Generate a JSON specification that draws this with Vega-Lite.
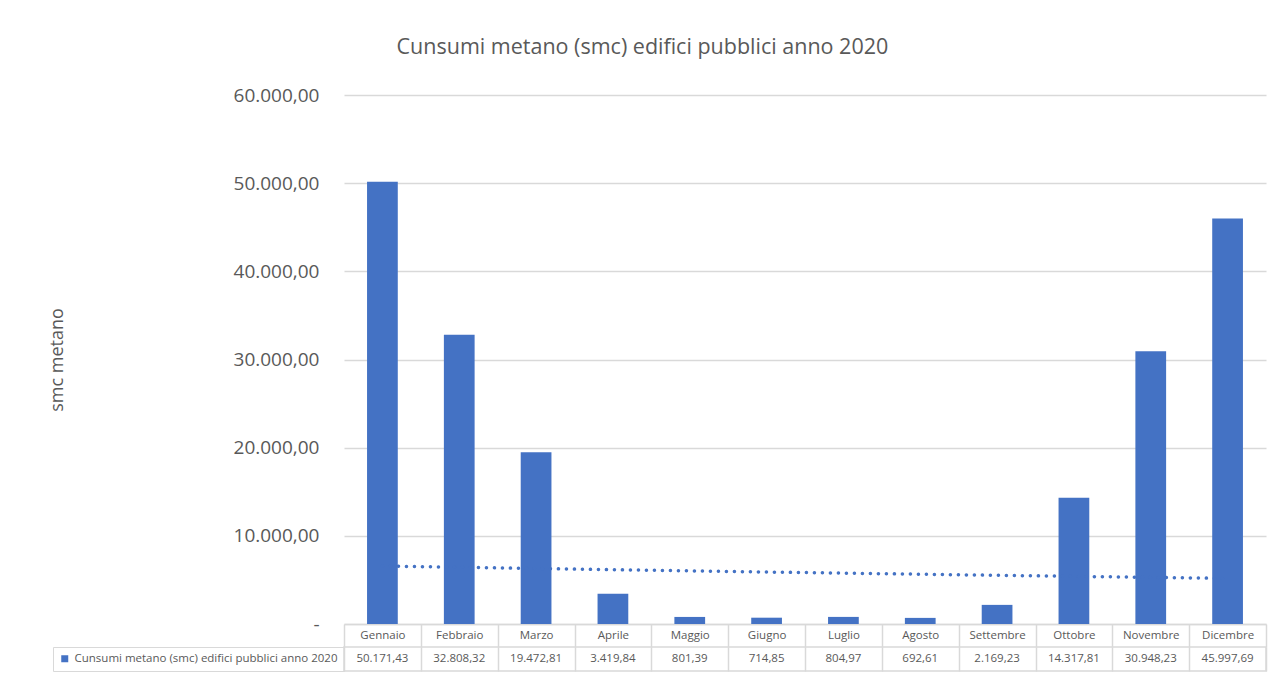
{
  "$schema": "https://vega.github.io/schema/vega-lite/v6.json",
  "padding": {"left": 48, "top": 36, "right": 10, "bottom": 4},
  "background": "white",
  "bounds": "flush",
  "spacing": 23,
  "resolve": {"scale": {"color": "independent"}, "legend": {"color": "independent"}},
  "title": {
    "text": "Cunsumi metano (smc) edifici pubblici anno 2020",
    "font": "Open Sans",
    "fontSize": 21.5,
    "fontWeight": "normal",
    "color": "#595959",
    "anchor": "middle",
    "frame": "bounds",
    "offset": 28,
    "dx": -15
  },
  "data": {
    "values": [
      {"mese": "Gennaio", "smc": 50171.43, "tendenza": 6574, "serie": "Cunsumi metano (smc) edifici pubblici anno 2020"},
      {"mese": "Febbraio", "smc": 32808.32, "tendenza": 6432, "serie": "Cunsumi metano (smc) edifici pubblici anno 2020"},
      {"mese": "Marzo", "smc": 19472.81, "tendenza": 6294, "serie": "Cunsumi metano (smc) edifici pubblici anno 2020"},
      {"mese": "Aprile", "smc": 3419.84, "tendenza": 6158, "serie": "Cunsumi metano (smc) edifici pubblici anno 2020"},
      {"mese": "Maggio", "smc": 801.39, "tendenza": 6026, "serie": "Cunsumi metano (smc) edifici pubblici anno 2020"},
      {"mese": "Giugno", "smc": 714.85, "tendenza": 5896, "serie": "Cunsumi metano (smc) edifici pubblici anno 2020"},
      {"mese": "Luglio", "smc": 804.97, "tendenza": 5769, "serie": "Cunsumi metano (smc) edifici pubblici anno 2020"},
      {"mese": "Agosto", "smc": 692.61, "tendenza": 5645, "serie": "Cunsumi metano (smc) edifici pubblici anno 2020"},
      {"mese": "Settembre", "smc": 2169.23, "tendenza": 5523, "serie": "Cunsumi metano (smc) edifici pubblici anno 2020"},
      {"mese": "Ottobre", "smc": 14317.81, "tendenza": 5404, "serie": "Cunsumi metano (smc) edifici pubblici anno 2020"},
      {"mese": "Novembre", "smc": 30948.23, "tendenza": 5288, "serie": "Cunsumi metano (smc) edifici pubblici anno 2020"},
      {"mese": "Dicembre", "smc": 45997.69, "tendenza": 5174, "serie": "Cunsumi metano (smc) edifici pubblici anno 2020"}
    ]
  },
  "config": {
    "font": "Open Sans",
    "locale": {"number": {"decimal": ",", "thousands": ".", "grouping": [3], "currency": ["€", ""]}},
    "axis": {"labelFont": "Open Sans", "titleFont": "Open Sans"},
    "legend": {"labelFont": "Open Sans"}
  },
  "vconcat": [
    {
      "width": 922,
      "height": 529,
      "view": {"stroke": null},
      "encoding": {
        "x": {
          "field": "mese",
          "type": "nominal",
          "sort": null,
          "scale": {"paddingInner": 0, "paddingOuter": 0},
          "axis": {
            "title": null,
            "labelAngle": 0,
            "grid": false,
            "domainColor": "#d9d9d9",
            "domainWidth": 1.5,
            "tickColor": "#d9d9d9",
            "tickWidth": 1.5,
            "tickSize": 23,
            "tickBand": "extent",
            "labelPadding": -12,
            "labelBaseline": "middle",
            "labelFontSize": 11.5,
            "labelColor": "#595959"
          }
        }
      },
      "layer": [
        {
          "mark": {"type": "bar", "color": "#4472C4", "width": {"band": 0.4}},
          "encoding": {
            "y": {
              "field": "smc",
              "type": "quantitative",
              "title": "smc metano",
              "scale": {"domain": [0, 60000], "nice": false},
              "axis": {
                "values": [0, 10000, 20000, 30000, 40000, 50000, 60000],
                "format": ",.2f",
                "labelExpr": "datum.value === 0 ? '-\u2007\u2007' : datum.label",
                "domain": false,
                "ticks": false,
                "tickSize": 0,
                "labelPadding": 25,
                "labelFontSize": 19,
                "labelColor": "#595959",
                "gridColor": "#d9d9d9",
                "gridWidth": 1.5,
                "titleFontSize": 18,
                "titleFontWeight": "normal",
                "titleColor": "#595959",
                "titlePadding": 167
              }
            }
          }
        },
        {
          "mark": {"type": "line", "color": "#4472C4", "strokeWidth": 3.5, "strokeDash": [0.1, 7.9], "strokeCap": "round"},
          "encoding": {
            "y": {"field": "tendenza", "type": "quantitative", "title": "smc metano"}
          }
        }
      ]
    },
    {
      "width": 922,
      "height": 24,
      "view": {"stroke": "#d9d9d9", "strokeWidth": 1.5},
      "encoding": {
        "x": {
          "field": "mese",
          "type": "nominal",
          "sort": null,
          "scale": {"paddingInner": 0, "paddingOuter": 0},
          "axis": {
            "title": null,
            "labels": false,
            "ticks": false,
            "domain": false,
            "grid": true,
            "gridColor": "#d9d9d9",
            "gridWidth": 1.5,
            "tickBand": "extent"
          }
        }
      },
      "layer": [
        {
          "mark": {"type": "text", "font": "Open Sans", "fontSize": 11.5, "color": "#595959", "baseline": "middle"},
          "encoding": {
            "text": {"field": "smc", "type": "quantitative", "format": ",.2f"}
          }
        },
        {
          "mark": {"type": "point", "shape": "square", "filled": true, "opacity": 0},
          "encoding": {
            "color": {
              "field": "serie",
              "type": "nominal",
              "scale": {"range": ["#4472C4"]},
              "legend": {
                "orient": "left",
                "offset": 0,
                "title": null,
                "symbolType": "square",
                "symbolSize": 49,
                "symbolOpacity": 1,
                "symbolStrokeWidth": 0,
                "labelFontSize": 11.5,
                "labelColor": "#595959",
                "labelLimit": 400,
                "labelOffset": 4,
                "padding": 6,
                "strokeColor": "#d9d9d9"
              }
            }
          }
        }
      ]
    }
  ]
}
